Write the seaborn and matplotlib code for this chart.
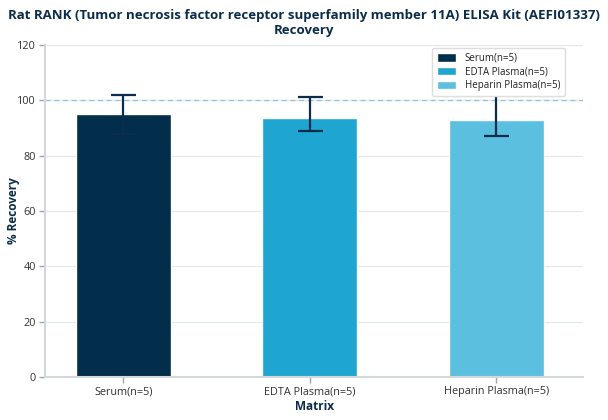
import matplotlib
matplotlib.use("Agg")
import matplotlib.pyplot as plt
import seaborn as sns
import pandas as pd

categories = ["Serum(n=5)", "EDTA Plasma(n=5)", "Heparin Plasma(n=5)"]
recovery = [94.9, 93.7, 92.9]
err_low = [87.9, 89.0, 87.1]
err_high = [102.0, 101.2, 107.0]
colors = ["#022d4b", "#1fa5d2", "#5bbfe0"]
yticks = [0, 20, 40, 60, 80, 100, 120]

sns.set_theme(style="white")
plt.rcParams["font.family"] = ["Open Sans", "DejaVu Sans"]

df = pd.DataFrame({"Matrix": categories, "Recovery": recovery})

fig = plt.figure(figsize=(6.08, 4.2), dpi=100)
ax = fig.add_axes([0.074, 0.102, 0.885, 0.791])

text_col = "#0b2c4a"
tick_col = "#333333"

ax.set_axisbelow(True)
ax.yaxis.grid(True, color="#e3e8ec", linewidth=0.9)
ax.axhline(100, color="#8cc4dc", linestyle=(0, (4, 3)), linewidth=0.9, zorder=1)

sns.barplot(data=df, x="Matrix", y="Recovery", hue="Matrix", palette=colors,
            width=0.51, ax=ax, legend=True, zorder=2, saturation=1, errorbar=None)

for i, c in enumerate(categories):
    ax.errorbar(i, recovery[i],
                yerr=[[recovery[i] - err_low[i]], [err_high[i] - recovery[i]]],
                fmt="none", ecolor="#0b2c4a", elinewidth=1.6, capsize=9, capthick=1.6,
                zorder=3)

ax.set_ylim(0, 120)
ax.set_xlim(-0.42, 2.465)
ax.set_yticks(yticks)
ax.set_yticklabels([str(v) for v in yticks], fontsize=7.8, color=tick_col)
ax.set_xticks(range(len(categories)))
ax.set_xticklabels(categories, fontsize=7.8, color=tick_col)
ax.tick_params(axis="both", length=4, width=1, color="#9aa5ae", pad=2.5, bottom=True, left=True)

for s in ["top", "right"]:
    ax.spines[s].set_visible(False)
for s in ["left", "bottom"]:
    ax.spines[s].set_color("#d3d8dc")
    ax.spines[s].set_linewidth(1.5)

ax.set_xlabel("Matrix", fontsize=8.5, fontweight="bold", color=text_col, labelpad=2)
ax.set_ylabel("% Recovery", fontsize=8.5, fontweight="bold", color=text_col)
ax.yaxis.set_label_coords(-0.047, 0.5)
fig.text(0.5, 0.978,
         "Rat RANK (Tumor necrosis factor receptor superfamily member 11A) ELISA Kit (AEFI01337)\nRecovery",
         ha="center", va="top", fontsize=9.5, fontweight="bold", color=text_col, linespacing=1.2)

leg = ax.legend(loc="upper right", bbox_to_anchor=(0.975, 1.005), fontsize=7, frameon=True,
                fancybox=True, framealpha=1, edgecolor="#dddddd", handlelength=2.0,
                handleheight=1.0, borderpad=0.45, labelspacing=0.3, handletextpad=0.9)
leg.set_zorder(5)
for t in leg.get_texts():
    t.set_color("#222222")

fig.savefig("out.png", dpi=100)
